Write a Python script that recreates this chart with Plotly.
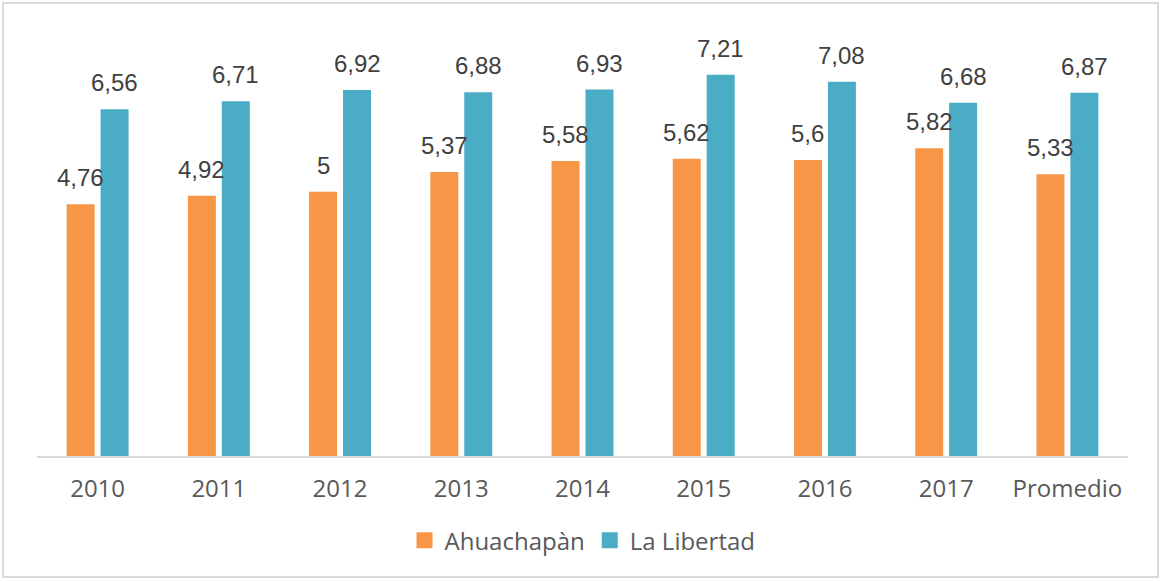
import plotly.graph_objects as go

categories = ["2010", "2011", "2012", "2013", "2014", "2015", "2016", "2017", "Promedio"]
ahuachapan = [4.76, 4.92, 5.0, 5.37, 5.58, 5.62, 5.6, 5.82, 5.33]
la_libertad = [6.56, 6.71, 6.92, 6.88, 6.93, 7.21, 7.08, 6.68, 6.87]
series_names = ["Ahuachapàn", "La Libertad"]
colors = ["#F79646", "#4BACC6"]


def fmt(v):
    return f"{v:g}".replace(".", ",")


fig = go.Figure()
annotations = []
for i, (name, vals, col) in enumerate(zip(series_names, [ahuachapan, la_libertad], colors)):
    fig.add_trace(go.Bar(
        x=categories, y=vals, name=name,
        marker=dict(color=col, line=dict(width=0)),
        showlegend=False, hoverinfo="x+y",
    ))
    # legend proxy with larger square swatch
    fig.add_trace(go.Scatter(
        x=[categories[0]], y=[None], mode="markers", name=name,
        marker=dict(symbol="square", size=16, color=col),
        showlegend=True, hoverinfo="skip",
    ))
    xs = -17 if i == 0 else 17
    for j, v in enumerate(vals):
        annotations.append(dict(
            x=j, y=v, xref="x", yref="y", text=fmt(v), showarrow=False,
            xanchor="center", yanchor="bottom", xshift=xs, yshift=11,
            font=dict(family="Liberation Sans, Arial", size=24, color="#404040"),
        ))

L, R, T, B = 37, 34, 33, 125
W, H = 1162, 581
pw, ph = W - L - R, H - T - B

fig.update_layout(
    width=W, height=H,
    margin=dict(l=L, r=R, t=T, b=B),
    paper_bgcolor="white", plot_bgcolor="white",
    barmode="group", bargap=0.44, bargroupgap=0.176,
    showlegend=True,
    legend=dict(orientation="h", x=0.5, xanchor="center", y=-0.2, yanchor="middle",
                font=dict(family="Open Sans", size=24, color="#595959"),
                traceorder="normal"),
    xaxis=dict(type="category", categoryorder="array", categoryarray=categories,
               range=[-0.5, len(categories) - 0.5],
               showline=True, linecolor="#D9D9D9", linewidth=1.5,
               ticks="outside", ticklen=10, tickcolor="rgba(0,0,0,0)",
               tickfont=dict(family="Open Sans", size=24, color="#595959"),
               showgrid=False, zeroline=False),
    yaxis=dict(range=[0, 8], visible=False, showgrid=False, zeroline=False),
    annotations=annotations,
    shapes=[dict(type="rect", xref="paper", yref="paper",
                 x0=(3 - L) / pw, x1=(1158 - L) / pw,
                 y0=-(577 - (H - B)) / ph, y1=((H - B) - 3) / ph,
                 line=dict(color="#D9D9D9", width=2), fillcolor="rgba(0,0,0,0)",
                 layer="below")],
)

fig.write_html("out.html", config={"displayModeBar": False},
               post_script="document.body.style.margin='0';")
